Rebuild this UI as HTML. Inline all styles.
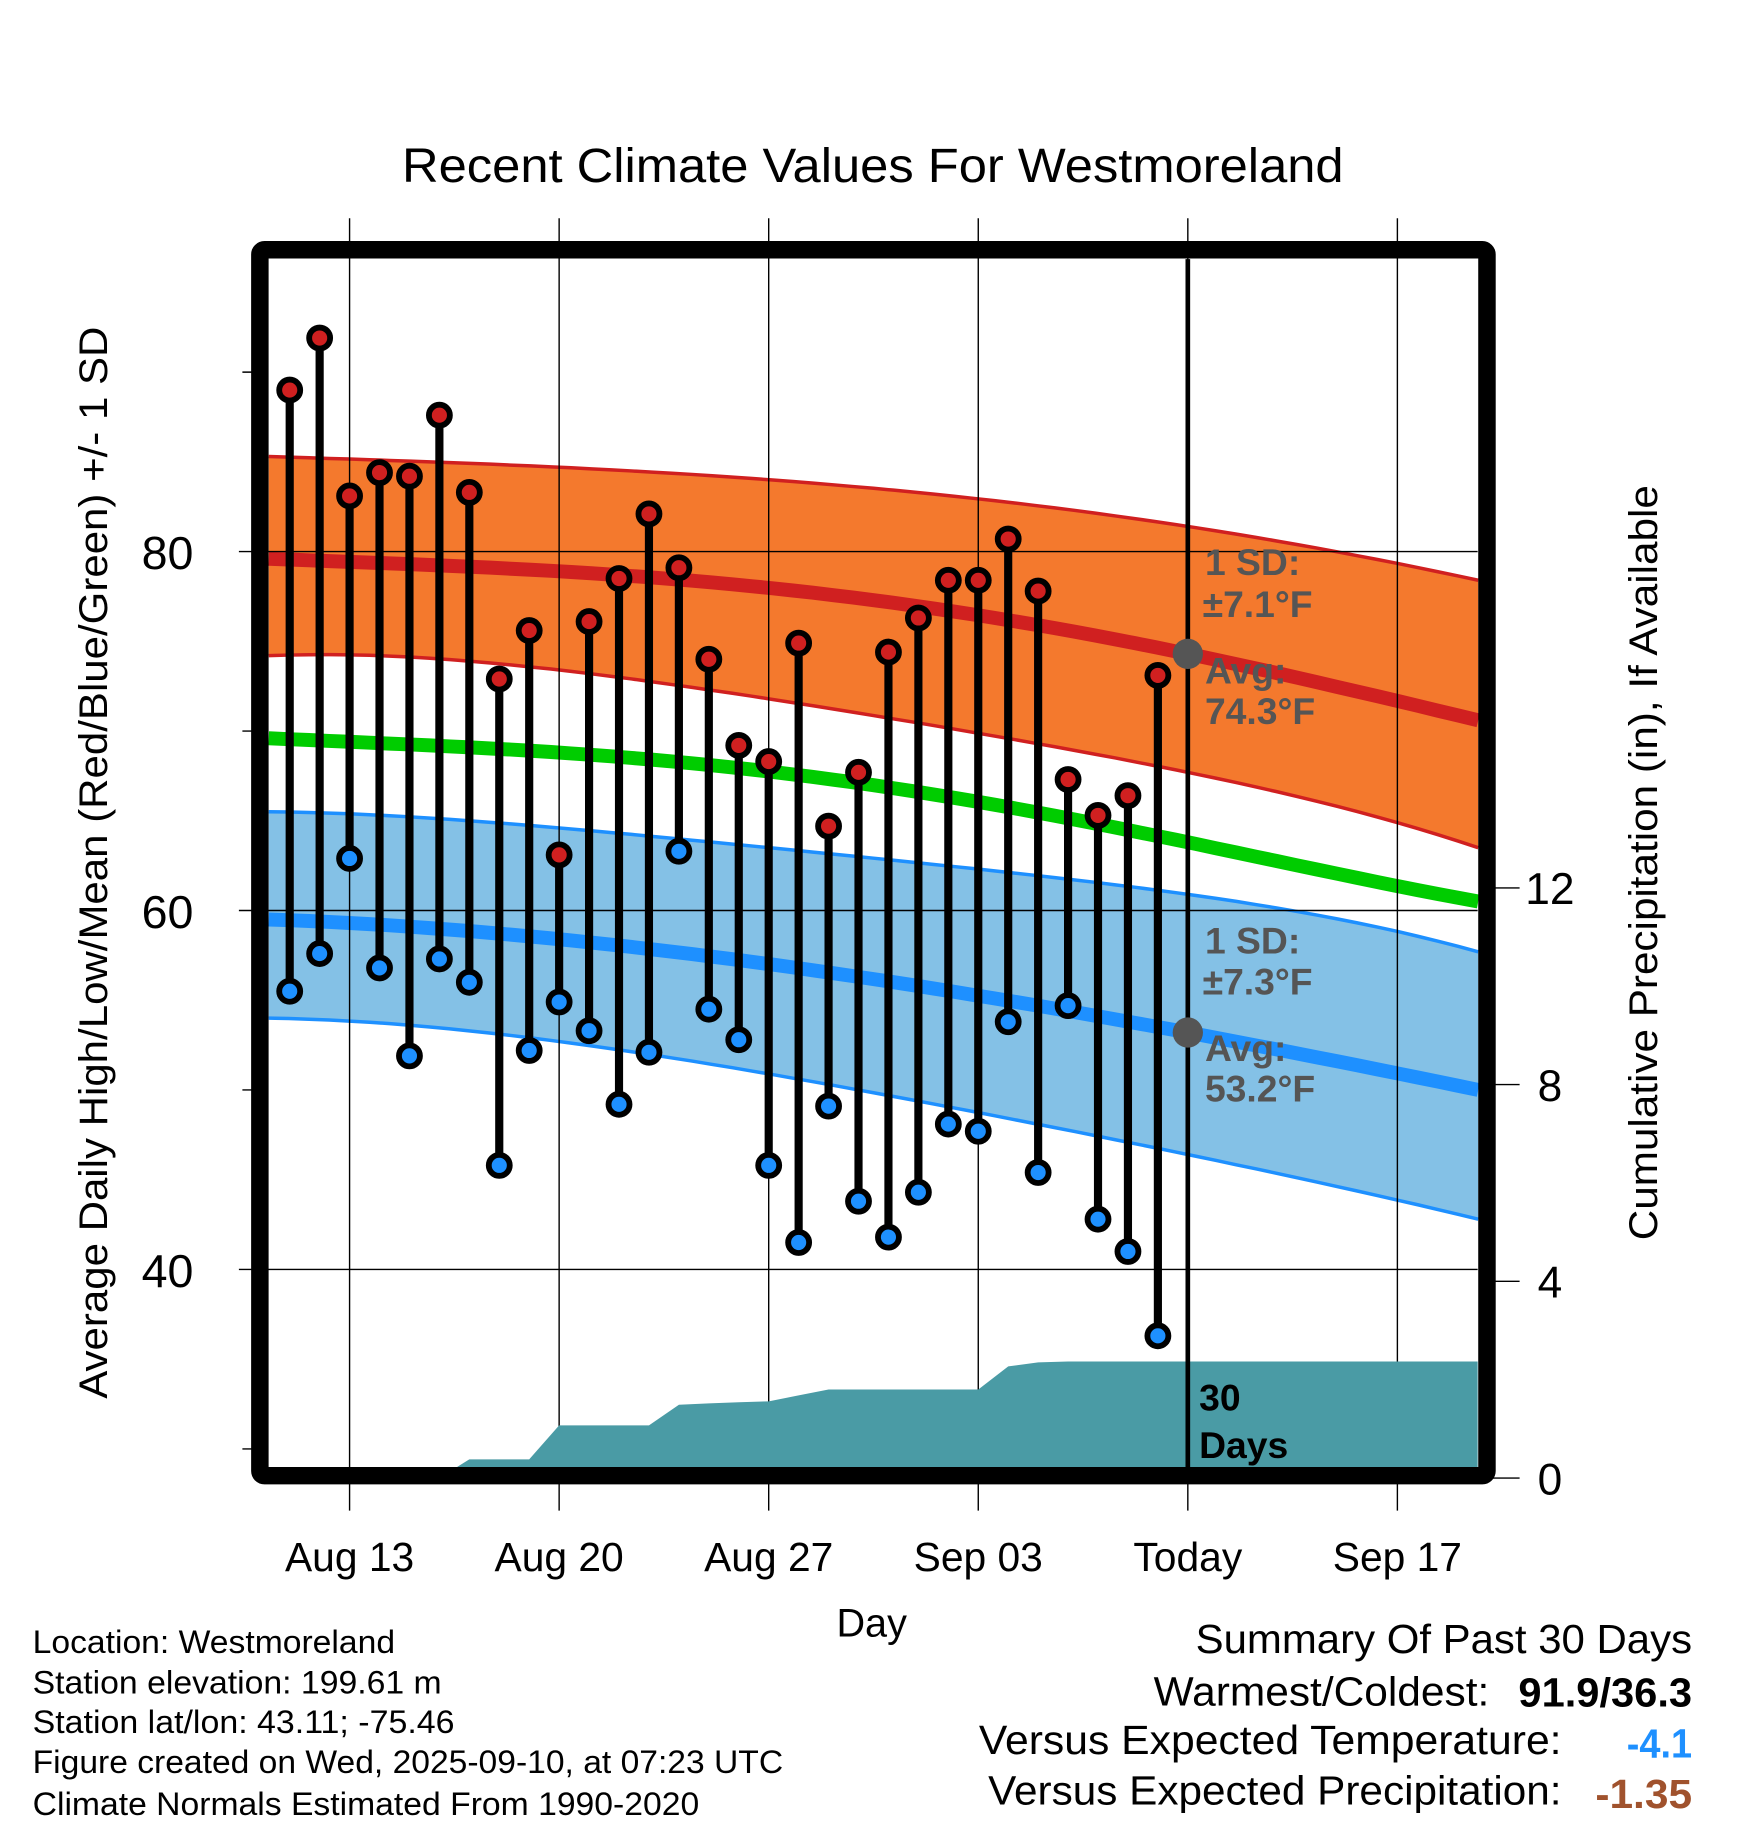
<!DOCTYPE html>
<html><head><meta charset="utf-8"><style>
html,body{margin:0;padding:0;background:#fff}
svg{display:block;font-family:"Liberation Sans",Arial,sans-serif}
</style></head><body>
<svg id="chart" width="1748" height="1828" viewBox="0 0 1500 1568" xmlns="http://www.w3.org/2000/svg">
<rect x="0" y="0" width="1500" height="1568" fill="#fff"/>
<g id="bands"></g>
<g id="grid"></g>
<g id="precip"></g>
<g id="marks"></g>
<g id="frame"></g>
<g id="texts">
<text x="345" y="156" font-size="41" textLength="808" lengthAdjust="spacingAndGlyphs">Recent Climate Values For Westmoreland</text>
<text transform="translate(92,740) rotate(-90)" font-size="34" text-anchor="middle" textLength="920" lengthAdjust="spacingAndGlyphs">Average Daily High/Low/Mean (Red/Blue/Green) +/- 1 SD</text>
<text transform="translate(1422,740) rotate(-90)" font-size="34" text-anchor="middle" textLength="648" lengthAdjust="spacingAndGlyphs">Cumulative Precipitation (in), If Available</text>
<text x="748" y="1404" font-size="34" text-anchor="middle">Day</text>
<g font-size="28">
<text x="28" y="1418" textLength="311" lengthAdjust="spacingAndGlyphs">Location: Westmoreland</text>
<text x="28" y="1453" textLength="351" lengthAdjust="spacingAndGlyphs">Station elevation: 199.61 m</text>
<text x="28" y="1487" textLength="362" lengthAdjust="spacingAndGlyphs">Station lat/lon: 43.11; -75.46</text>
<text x="28" y="1521" textLength="644" lengthAdjust="spacingAndGlyphs">Figure created on Wed, 2025-09-10, at 07:23 UTC</text>
<text x="28" y="1557" textLength="572" lengthAdjust="spacingAndGlyphs">Climate Normals Estimated From 1990-2020</text>
</g>
<g font-size="35">
<text x="1026" y="1418" textLength="426" lengthAdjust="spacingAndGlyphs">Summary Of Past 30 Days</text>
<text x="990" y="1463" textLength="288" lengthAdjust="spacingAndGlyphs">Warmest/Coldest:</text>
<text x="1303" y="1464" font-weight="bold" textLength="149" lengthAdjust="spacingAndGlyphs">91.9/36.3</text>
<text x="840" y="1505" textLength="500" lengthAdjust="spacingAndGlyphs">Versus Expected Temperature:</text>
<text x="1396" y="1508" font-weight="bold" fill="#1e90ff" textLength="56" lengthAdjust="spacingAndGlyphs">-4.1</text>
<text x="848" y="1548" textLength="492" lengthAdjust="spacingAndGlyphs">Versus Expected Precipitation:</text>
<text x="1369" y="1551" font-weight="bold" fill="#a0522d" textLength="83" lengthAdjust="spacingAndGlyphs">-1.35</text>
</g>
<g font-size="32" font-weight="bold" fill="#555">
<text x="1034" y="493">1 SD:</text>
<text x="1032" y="529">±7.1°F</text>
<text x="1034" y="586">Avg:</text>
<text x="1034" y="621">74.3°F</text>
<text x="1034" y="818">1 SD:</text>
<text x="1032" y="853">±7.3°F</text>
<text x="1034" y="910">Avg:</text>
<text x="1034" y="945">53.2°F</text>
</g>
<g font-size="32" font-weight="bold" fill="#000">
<text x="1029" y="1210">30</text>
<text x="1029" y="1251">Days</text>
</g>
</g>
</svg>
<script>
// ---- data ----
const dayLabels = ["Aug 13","Aug 20","Aug 27","Sep 03","Today","Sep 17"];
const labelDays = [2,9,16,23,30,37];
const highs = [89.0,91.9,83.1,84.4,84.2,87.6,83.3,72.9,75.6,63.1,76.1,78.5,82.1,79.1,74.0,69.2,68.3,74.9,64.7,67.7,74.4,76.3,78.4,78.4,80.7,77.8,67.3,65.3,66.4,73.1];
const lows = [55.5,57.6,62.9,56.8,51.9,57.3,56.0,45.8,52.2,54.9,53.3,49.2,52.1,63.3,54.5,52.8,45.8,41.5,49.1,43.8,41.8,44.3,48.1,47.7,53.8,45.4,54.7,42.8,41.0,36.3];
const precipCum = [0,0,0,0,0,0,0.38,0.38,0.38,1.07,1.07,1.07,1.07,1.49,1.52,1.54,1.56,1.68,1.80,1.80,1.80,1.80,1.80,1.80,2.27,2.35,2.37,2.37,2.37,2.37,2.37];
const normDays = [-0.7,9,19,30,39.7];
const normHighUpper = [85.3,84.7,83.6,81.4,78.4];
const normHigh = [79.6,78.9,77.4,74.3,70.6];
const normHighLower = [74.2,73.4,71.0,67.7,63.5];
const normMean = [69.6,68.8,67.1,63.8,60.5];
const normLowUpper = [65.5,64.6,63.0,60.9,57.7];
const normLow = [59.5,58.4,56.3,53.2,50.0];
const normLowLower = [54.0,52.7,50.0,46.4,42.8];
const tempTicks = [40,60,80];
const tempMinor = [30,50,70,90];
const precipTicks = [0,4,8,12];

// ---- scales ----
const NS="http://www.w3.org/2000/svg";
const X0=248.6, PXD=25.69;
const xs = d => X0 + d*PXD;
const yT = v => 473 + (80 - v)*15.4;
const yP = v => 1268 - v*42.2;
const L=231,R=1268,T=222,B=1259;
function mk(tag, attrs, parent){const e=document.createElementNS(NS,tag);for(const k in attrs)e.setAttribute(k,attrs[k]);parent.appendChild(e);return e;}
// smooth interpolation (Lagrange over the sample points)
function interp(vals, d){let s=0;for(let i=0;i<normDays.length;i++){let p=vals[i];for(let j=0;j<normDays.length;j++){if(j!==i)p*=(d-normDays[j])/(normDays[i]-normDays[j]);}s+=p;}return s;}
function samples(){const a=[];const n=60;for(let k=0;k<=n;k++)a.push(normDays[0]+(normDays[normDays.length-1]-normDays[0])*k/n);return a;}
const SD=samples();
function path(vals){return SD.map((d,i)=>(i?'L':'M')+xs(d).toFixed(1)+','+yT(interp(vals,d)).toFixed(1)).join(' ');}
function band(up, lo){return path(up)+' '+SD.slice().reverse().map(d=>'L'+xs(d).toFixed(1)+','+yT(interp(lo,d)).toFixed(1)).join(' ')+' Z';}

const bands=document.getElementById('bands');
let e;
e=mk('path',{d:band(normHighUpper,normHighLower),fill:'#f4792d'},bands);


e=mk('path',{d:band(normLowUpper,normLowLower),fill:'#84c1e6'},bands);


[[normHighUpper,'#d02020',3],[normHighLower,'#d02020',3],[normLowUpper,'#1e90ff',3],[normLowLower,'#1e90ff',3],[normHigh,'#d02020',12],[normMean,'#00cc00',12],[normLow,'#1e90ff',12]].forEach((s,i)=>{
  const p=mk('path',{d:path(s[0]),fill:'none',stroke:s[1],'stroke-width':s[2]},bands);
  
  
});

const grid=document.getElementById('grid');
labelDays.forEach((d,i)=>{
  const x=xs(d);
  const l=mk('line',{x1:x,x2:x,y1:187,y2:1296,stroke:'#000','stroke-width':1.2},grid);
  
  
  const t=mk('text',{x:x,y:1348,'font-size':35,'text-anchor':'middle'},grid);
  t.textContent=dayLabels[i];
  
  
});
tempTicks.forEach(v=>{
  const y=yT(v);
  const l=mk('line',{x1:205,x2:R,y1:y,y2:y,stroke:'#000','stroke-width':1.2},grid);
  
  
  const t=mk('text',{x:166,y:y+15,'font-size':40,'text-anchor':'end'},grid);
  t.textContent=v;
  
  
});
tempMinor.forEach(v=>{
  const l=mk('line',{x1:208,x2:222,y1:yT(v),y2:yT(v),stroke:'#000','stroke-width':1.2},grid);
  
  
});
precipTicks.forEach(v=>{
  const y=yP(v);
  const l=mk('line',{x1:1280,x2:1304,y1:y,y2:y,stroke:'#000','stroke-width':1.2},grid);
  
  
  const t=mk('text',{x:1330,y:y+14,'font-size':38,'text-anchor':'middle'},grid);
  t.textContent=v;
  
  
});

const pg=document.getElementById('precip');
let d='M'+L+','+B+' L'+L+','+yP(precipCum[0]);
precipCum.forEach((v,i)=>{d+=' L'+xs(i).toFixed(1)+','+yP(v).toFixed(1);});
d+=' L'+R+','+yP(precipCum[precipCum.length-1]).toFixed(1)+' L'+R+','+B+' Z';
e=mk('path',{d:d,fill:'#4a9ba5'},pg);



const mg=document.getElementById('marks');
const tl=mk('line',{x1:xs(30),x2:xs(30),y1:T,y2:B,stroke:'#000','stroke-width':4},mg);


highs.forEach((h,i)=>{
  const x=xs(i);
  const s=mk('line',{x1:x,x2:x,y1:yT(h),y2:yT(lows[i]),stroke:'#000','stroke-width':7},mg);
  
  
  const c1=mk('circle',{cx:x,cy:yT(h),r:9,fill:'#d02020',stroke:'#000','stroke-width':5},mg);
  
  
  const c2=mk('circle',{cx:x,cy:yT(lows[i]),r:9,fill:'#1e90ff',stroke:'#000','stroke-width':5},mg);
  
  
});
[normHigh[3],normLow[3]].forEach(v=>{
  const c=mk('circle',{cx:xs(30),cy:yT(v),r:13,fill:'#555'},mg);
  
  
});

const fr=document.getElementById('frame');
e=mk('rect',{x:223,y:214,width:1053,height:1052,rx:4,fill:'none',stroke:'#000','stroke-width':15},fr);


</script>
</body></html>
